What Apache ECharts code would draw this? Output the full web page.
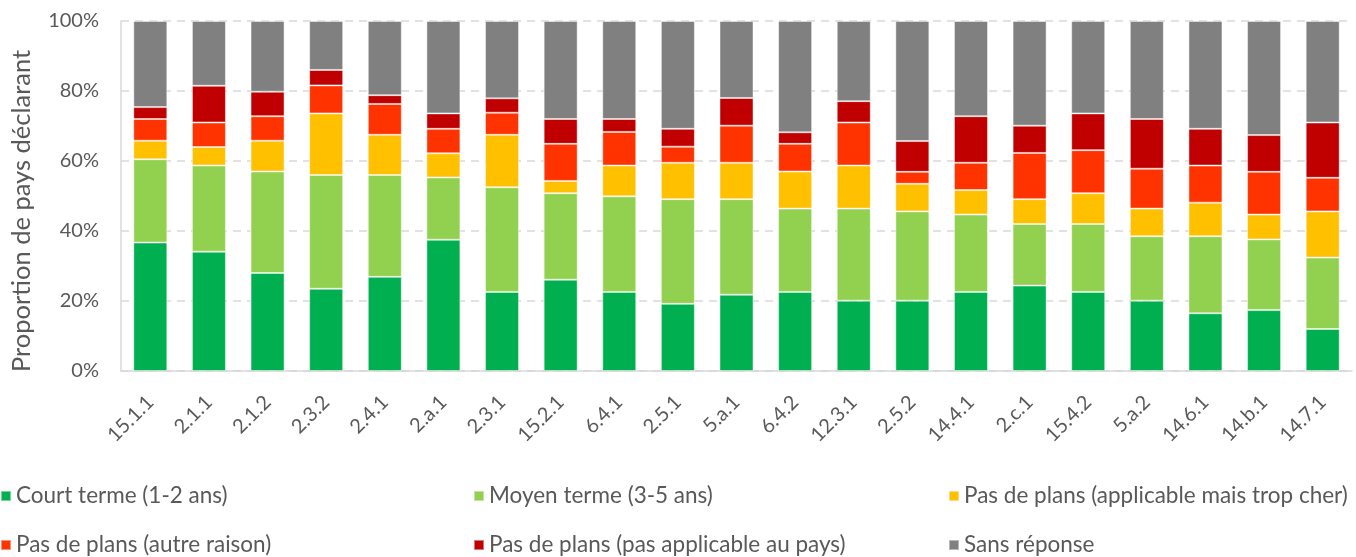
<!DOCTYPE html>
<html>
<head>
<meta charset="utf-8">
<script src="https://cdn.jsdelivr.net/npm/echarts@6/dist/echarts.min.js"></script>
<style>
  html, body { margin: 0; padding: 0; background: #fff; }
  #chart { width: 1356px; height: 557px; }
</style>
</head>
<body>
<div id="chart"></div>
<script>
const categories = ['15.1.1', '2.1.1', '2.1.2', '2.3.2', '2.4.1', '2.a.1', '2.3.1', '15.2.1', '6.4.1', '2.5.1',
  '5.a.1', '6.4.2', '12.3.1', '2.5.2', '14.4.1', '2.c.1', '15.4.2', '5.a.2', '14.6.1', '14.b.1', '14.7.1']

const courtTerme = [36.7, 34.1, 28.0, 23.5, 26.9, 37.5, 22.6, 26.1, 22.6, 19.2, 21.8, 22.6, 20.1, 20.1, 22.6, 24.4, 22.6, 20.1, 16.5, 17.4, 12.0]
const moyenTerme = [23.8, 24.6, 29.0, 32.5, 29.1, 17.8, 29.9, 24.7, 27.3, 29.9, 27.3, 23.8, 26.3, 25.5, 22.1, 17.6, 19.4, 18.4, 22.0, 20.2, 20.4]
const tropCher = [5.3, 5.3, 8.8, 17.6, 11.5, 6.9, 15.0, 3.5, 8.8, 10.4, 10.4, 10.6, 12.3, 7.9, 7.0, 7.1, 8.8, 7.9, 9.6, 7.1, 13.2]
const autreRaison = [6.2, 7.0, 7.0, 8.0, 8.8, 7.0, 6.3, 10.6, 9.6, 4.6, 10.6, 7.9, 12.3, 3.4, 7.8, 13.2, 12.3, 11.4, 10.6, 12.2, 9.6]
const pasApplicable = [3.4, 10.5, 7.0, 4.4, 2.5, 4.4, 4.1, 7.1, 3.7, 5.1, 7.9, 3.3, 6.1, 8.8, 13.3, 7.8, 10.5, 14.2, 10.5, 10.5, 15.8]
const sansReponse = [24.6, 18.5, 20.2, 14.0, 21.2, 26.4, 22.1, 28.0, 28.0, 30.8, 22.0, 31.8, 22.9, 34.3, 27.2, 29.9, 26.4, 28.0, 30.8, 32.6, 29.0]

const yTicks = [0, 20, 40, 60, 80, 100]

const seriesNames = [
  'Court terme (1-2 ans)',
  'Moyen terme (3-5 ans)',
  'Pas de plans (applicable mais trop cher)',
  'Pas de plans (autre raison)',
  'Pas de plans (pas applicable au pays)',
  'Sans réponse'
]
const seriesData = [courtTerme, moyenTerme, tropCher, autreRaison, pasApplicable, sansReponse]
const colors = ['#00B050', '#92D050', '#FFC000', '#FF3300', '#C00000', '#808080']

const font = 'Lato, "Open Sans", sans-serif'
const textColor = '#595959'

const myChart = echarts.init(document.getElementById('chart'))

// legend en 3 colonnes x 2 lignes, une légende par entrée
const legendPos = [[0, 484], [473, 484], [948, 484], [0, 533], [473, 533], [948, 533]]

myChart.setOption({
  animation: false,
  color: colors,
  grid: {
    left: 121,
    right: 4,
    top: 21,
    bottom: 186,
    outerBoundsMode: 'none'
  },
  legend: seriesNames.map((name, i) => ({
    data: [name],
    left: legendPos[i][0],
    top: legendPos[i][1],
    padding: 0,
    icon: 'rect',
    itemWidth: 10,
    itemHeight: 10,
    textStyle: { color: textColor, fontSize: 22.5, lineHeight: 24, fontFamily: font }
  })),
  xAxis: {
    type: 'category',
    data: categories,
    axisTick: { show: false },
    axisLine: { lineStyle: { color: '#D9D9D9', width: 1.5 } },
    axisLabel: {
      rotate: 45,
      interval: 0,
      margin: 28,
      color: textColor,
      fontSize: 20,
      fontFamily: font
    }
  },
  yAxis: {
    type: 'value',
    min: yTicks[0],
    max: yTicks[yTicks.length - 1],
    interval: 20,
    name: 'Proportion de pays déclarant',
    nameLocation: 'middle',
    nameGap: 86,
    nameTextStyle: { color: textColor, fontSize: 25.5, fontFamily: font, padding: [0, 30, 0, 0] },
    axisLine: { show: true, lineStyle: { color: '#D9D9D9', width: 1.5 } },
    axisTick: { show: false },
    splitLine: { lineStyle: { color: '#D9D9D9', type: [8, 6], width: 1.5 } },
    axisLabel: {
      formatter: '{value}%',
      color: textColor,
      fontSize: 20,
      fontFamily: font,
      margin: 22
    }
  },
  series: seriesNames.map((name, i) => ({
    name: name,
    type: 'bar',
    stack: 'total',
    barWidth: 34,
    data: seriesData[i],
    itemStyle: {
      color: colors[i],
      borderColor: 'rgba(255,255,255,0.45)',
      borderWidth: 1
    }
  }))
})
</script>
</body>
</html>
